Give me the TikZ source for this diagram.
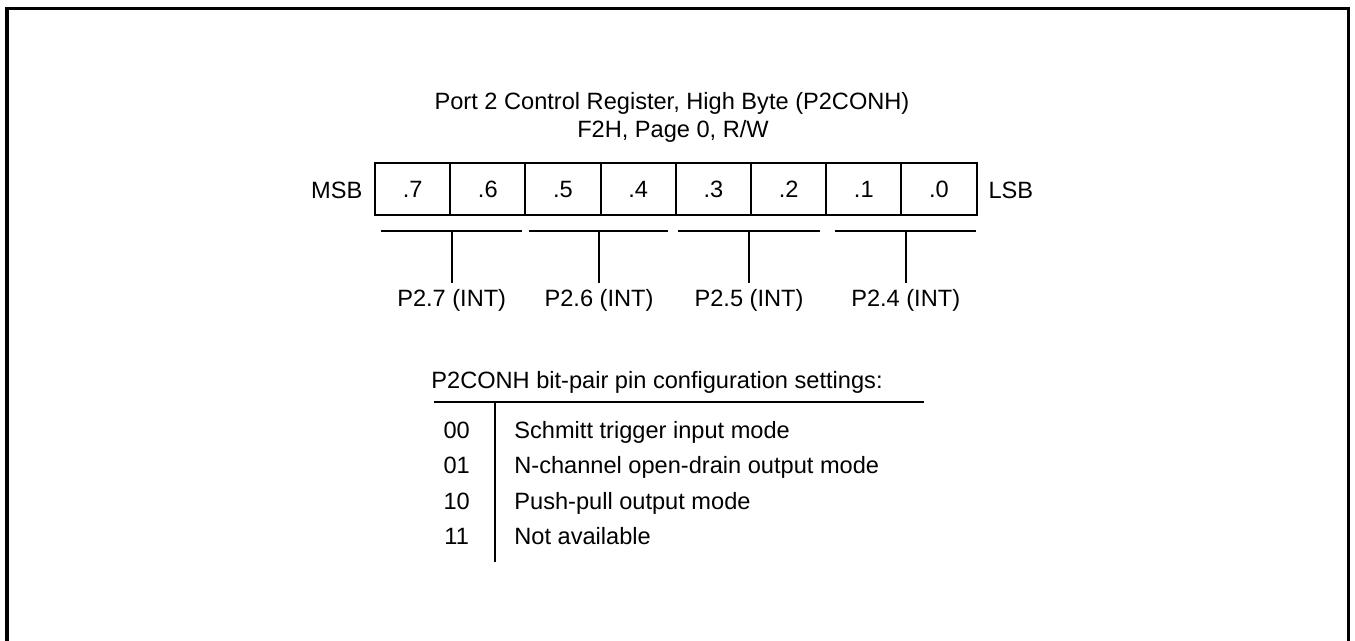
\documentclass[tikz,border=0pt]{standalone}
\usepackage{fontspec}
\setmainfont{Liberation Sans}
\begin{document}
\begin{tikzpicture}[x=0.5pt,y=-0.5pt,
  txt/.style={font=\fontsize{11.8pt}{14pt}\selectfont, inner sep=0pt, anchor=base},
  cell/.style={draw, line width=1pt, minimum width=37.6pt, minimum height=25.85pt, inner sep=0pt, font=\fontsize{11.8pt}{14pt}\selectfont},
  thin/.style={line width=1pt},
  frame/.style={line width=1.7pt}]
\useasboundingbox (0,0) rectangle (1355,641);
% open frame
\coordinate (fbl) at (7,641);
\coordinate (ftl) at (7,8.5);
\coordinate (ftr) at (1348.5,8.5);
\coordinate (fbr) at (1348.5,641);
\draw[frame] (fbl) -- (ftl) -- (ftr) -- (fbr);
% title
\node[txt] (title1) at (672,109.3) {Port 2 Control Register, High Byte (P2CONH)};
\node[txt] (title2) at (673,137.3) {F2H, Page 0, R/W};
% register cells
\foreach \i/\t in {0/.7,1/.6,2/.5,3/.4,4/.3,5/.2,6/.1,7/.0} {
  \node[cell] (c\i) at ({412.6+\i*75.2},189.2) {\t};
}
\node[txt] (msb) at (336.7,198.3) {MSB};
\node[txt] (lsb) at (1010.8,198.3) {LSB};
% brackets, ticks and labels
\foreach \k/\a/\b/\m/\lab in {1/381/521.7/451.7/P2.7 (INT),2/528.7/668.3/599/P2.6 (INT),3/678.3/820/749/P2.5 (INT),4/835/976/905.7/P2.4 (INT)} {
  \coordinate (bl\k) at (\a,231);
  \coordinate (br\k) at (\b,231);
  \coordinate (bm\k) at (\m,231);
  \coordinate (be\k) at (\m,283.3);
  \draw[thin] (bl\k) -- (br\k);
  \draw[thin] (bm\k) -- (be\k);
  \node[txt] (p\k) at (\m,306.7) {\lab};
}
% settings table
\node[txt, anchor=base west] (head) at (431,388.3) {P2CONH bit-pair pin configuration settings:};
\coordinate (rl) at (434,401.7);
\coordinate (rr) at (924,401.7);
\coordinate (vt) at (495,401.7);
\coordinate (vb) at (495,561.7);
\draw[thin] (rl) -- (rr);
\draw[thin] (vt) -- (vb);
\foreach \k/\y/\code/\desc in {1/438.3/00/Schmitt trigger input mode,2/473.8/01/N-channel open-drain output mode,3/509.3/10/Push-pull output mode,4/544.8/11/Not available} {
  \node[txt] (code\k) at (456.7,\y) {\code};
  \node[txt, anchor=base west] (desc\k) at (514,\y) {\desc};
}
\end{tikzpicture}
\end{document}
